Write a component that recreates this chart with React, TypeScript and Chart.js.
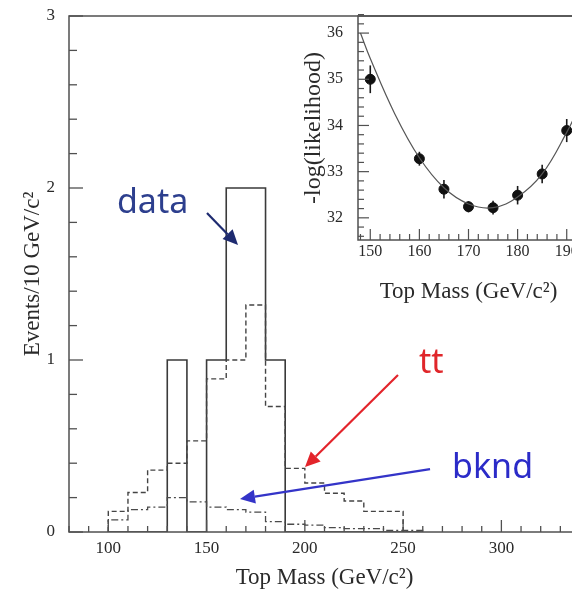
import React, { useEffect, useRef } from "react";
import { Chart, registerables } from "chart.js";

Chart.register(...registerables);

// ---------- data ----------
const BIN_EDGES = [100, 110, 120, 130, 140, 150, 160, 170, 180, 190, 200, 210, 220, 230, 240, 250, 260];
const DATA_COUNTS = [0, 0, 0, 1, 0, 1, 2, 2, 1, 0, 0, 0, 0, 0, 0, 0];
const TOTAL_EXPECTED = [0.12, 0.23, 0.36, 0.4, 0.53, 0.89, 1.0, 1.32, 0.73, 0.37, 0.285, 0.225, 0.18, 0.12, 0.12, 0];
const BACKGROUND = [0.07, 0.13, 0.145, 0.2, 0.175, 0.145, 0.13, 0.115, 0.06, 0.045, 0.04, 0.025, 0.02, 0.02, 0.01, 0.01];

const MAIN_X_TICKS = [100, 150, 200, 250, 300];
const MAIN_Y_TICKS = [0, 1, 2, 3];

const LL_MASS = [150, 160, 165, 170, 175, 180, 185, 190];
const LL_VALUE = [35.0, 33.28, 32.62, 32.24, 32.22, 32.49, 32.95, 33.89];
const LL_ERR = [0.3, 0.15, 0.2, 0.12, 0.15, 0.2, 0.2, 0.25];
const FIT_MASS = [148, 150, 155, 160, 165, 170, 175, 180, 185, 190, 192.5];
const FIT_VALUE = [36.0, 35.45, 34.25, 33.3, 32.65, 32.3, 32.22, 32.45, 32.95, 33.85, 34.4];

const INSET_X_TICKS = [150, 160, 170, 180, 190];
const INSET_Y_TICKS = [32, 33, 34, 35, 36];

// annotation labels, positioned in data units of the main plot
const NOTES = [
  { text: "data", color: "#2d3f8e", at: [104.4, 1.855], from: [150.2, 1.855], to: [166.0, 1.669], arrowColor: "#1e2b70" },
  { text: "tt", color: "#e0262a", at: [258.1, 0.924], from: [247.4, 0.913], to: [200.1, 0.378], arrowColor: "#e3242b" },
  { text: "bknd", color: "#2b2bc8", at: [274.9, 0.314], from: [263.7, 0.366], to: [167.0, 0.192], arrowColor: "#3434c8" },
];

// ---------- styles ----------
const SERIF = "'Liberation Serif', 'Times New Roman', serif";
const SANS = "'Noto Sans', 'Open Sans', sans-serif";
const AXIS = "#505050";
const TEXT = "#2a2a2a";

function histPoints(values: number[]) {
  const pts = [{ x: BIN_EDGES[0], y: 0 }];
  values.forEach((v, i) => pts.push({ x: BIN_EDGES[i], y: v }));
  pts.push({ x: BIN_EDGES[values.length], y: 0 });
  return pts;
}

function seg(ctx: CanvasRenderingContext2D, x1: number, y1: number, x2: number, y2: number) {
  ctx.beginPath();
  ctx.moveTo(x1, y1);
  ctx.lineTo(x2, y2);
  ctx.stroke();
}

function arrow(ctx: CanvasRenderingContext2D, x1: number, y1: number, x2: number, y2: number, color: string) {
  const head = 15;
  const hw = 7;
  const ang = Math.atan2(y2 - y1, x2 - x1);
  const bx = x2 - head * Math.cos(ang);
  const by = y2 - head * Math.sin(ang);
  ctx.strokeStyle = color;
  ctx.fillStyle = color;
  ctx.lineWidth = 2.2;
  seg(ctx, x1, y1, bx, by);
  ctx.beginPath();
  ctx.moveTo(x2, y2);
  ctx.lineTo(bx + hw * Math.sin(ang), by - hw * Math.cos(ang));
  ctx.lineTo(bx - hw * Math.sin(ang), by + hw * Math.cos(ang));
  ctx.closePath();
  ctx.fill();
}

const mainDecor = {
  id: "mainDecor",
  afterDatasetsDraw(chart: any) {
    const { ctx, chartArea: a, scales } = chart;
    const x = scales.x;
    const y = scales.y;
    ctx.save();
    ctx.strokeStyle = AXIS;
    ctx.lineWidth = 1.5;
    ctx.strokeRect(a.left, a.top, a.right - a.left, a.bottom - a.top);
    ctx.lineWidth = 1.3;
    for (let v = x.min; v <= x.max + 1e-6; v += 10) {
      const px = x.getPixelForValue(v);
      const len = v % 50 === 0 ? 12 : 6;
      seg(ctx, px, a.bottom, px, a.bottom - len);
    }
    for (let k = 0; k <= 15; k++) {
      const py = y.getPixelForValue(k * 0.2);
      const len = k % 5 === 0 ? 14 : 8;
      seg(ctx, a.left, py, a.left + len, py);
    }
    ctx.font = `34px ${SANS}`;
    ctx.textBaseline = "alphabetic";
    ctx.textAlign = "left";
    NOTES.forEach((n) => {
      ctx.fillStyle = n.color;
      ctx.fillText(n.text, x.getPixelForValue(n.at[0]), y.getPixelForValue(n.at[1]));
      arrow(
        ctx,
        x.getPixelForValue(n.from[0]),
        y.getPixelForValue(n.from[1]),
        x.getPixelForValue(n.to[0]),
        y.getPixelForValue(n.to[1]),
        n.arrowColor
      );
    });
    ctx.restore();
  },
};

const insetDecor = {
  id: "insetDecor",
  beforeDatasetsDraw(chart: any) {
    const { ctx, scales } = chart;
    const x = scales.x;
    const y = scales.y;
    ctx.save();
    ctx.strokeStyle = "#1a1a1a";
    ctx.lineWidth = 1.6;
    LL_MASS.forEach((m, i) => {
      const px = x.getPixelForValue(m);
      seg(ctx, px, y.getPixelForValue(LL_VALUE[i] - LL_ERR[i]), px, y.getPixelForValue(LL_VALUE[i] + LL_ERR[i]));
    });
    ctx.restore();
  },
  afterDatasetsDraw(chart: any) {
    const { ctx, chartArea: a, scales } = chart;
    const x = scales.x;
    const y = scales.y;
    ctx.save();
    ctx.strokeStyle = AXIS;
    ctx.lineWidth = 1.5;
    ctx.strokeRect(a.left, a.top, a.right - a.left, a.bottom - a.top);
    ctx.lineWidth = 1.2;
    for (let v = 148; v <= x.max + 1e-6; v += 2) {
      const px = x.getPixelForValue(v);
      const len = v % 10 === 0 ? 11 : 6;
      seg(ctx, px, a.bottom, px, a.bottom - len);
    }
    for (let k = 0; k <= 24; k++) {
      const val = 31.6 + k * 0.2;
      const py = y.getPixelForValue(val);
      const len = Math.abs(val - Math.round(val)) < 1e-6 ? 11 : 6;
      seg(ctx, a.left, py, a.left + len, py);
    }
    ctx.restore();
  },
};

const fitY = (w: number) => (s: any) => {
  s.width = w;
  s.paddingTop = 0;
  s.paddingBottom = 0;
};
const fitX = (h: number) => (s: any) => {
  s.height = h;
  s.paddingLeft = 0;
  s.paddingRight = 0;
};

export default function App() {
  const mainRef = useRef<HTMLCanvasElement>(null);
  const insetRef = useRef<HTMLCanvasElement>(null);

  useEffect(() => {
    const main = new Chart(mainRef.current as HTMLCanvasElement, {
      type: "line",
      data: {
        datasets: [
          {
            label: "bknd",
            data: histPoints(BACKGROUND),
            stepped: "before",
            borderColor: "#4a4a4a",
            borderWidth: 1.3,
            borderDash: [7, 3, 2, 3],
            pointRadius: 0,
            fill: false,
          },
          {
            label: "tt + bknd",
            data: histPoints(TOTAL_EXPECTED),
            stepped: "before",
            borderColor: "#444",
            borderWidth: 1.4,
            borderDash: [5, 3],
            pointRadius: 0,
            fill: false,
          },
          {
            label: "data",
            data: histPoints(DATA_COUNTS),
            stepped: "before",
            borderColor: "#3a3a3a",
            borderWidth: 1.6,
            pointRadius: 0,
            fill: false,
          },
        ],
      },
      options: {
        responsive: false,
        animation: false,
        devicePixelRatio: 1,
        events: [],
        layout: { padding: { top: 16, right: 20, left: 0, bottom: 0 } },
        plugins: { legend: { display: false }, tooltip: { enabled: false } },
        scales: {
          x: {
            type: "linear",
            min: 80,
            max: 340,
            afterBuildTicks: (s: any) => {
              s.ticks = MAIN_X_TICKS.map((v) => ({ value: v }));
            },
            afterFit: fitX(60),
            grid: { display: false, drawTicks: false },
            border: { display: false },
            ticks: { padding: 6, autoSkip: false, maxRotation: 0, color: TEXT, font: { family: SERIF, size: 17 } },
            title: {
              display: true,
              text: "Top Mass (GeV/c²)",
              color: TEXT,
              font: { family: SERIF, size: 23 },
              padding: { top: 0, bottom: 0 },
            },
          },
          y: {
            type: "linear",
            min: 0,
            max: 3,
            afterBuildTicks: (s: any) => {
              s.ticks = MAIN_Y_TICKS.map((v) => ({ value: v }));
            },
            afterFit: fitY(69),
            grid: { display: false, drawTicks: false },
            border: { display: false },
            ticks: { padding: 14, color: TEXT, font: { family: SERIF, size: 17 } },
            title: {
              display: true,
              text: "Events/10 GeV/c²",
              color: TEXT,
              font: { family: SERIF, size: 23 },
              padding: { top: 19, bottom: 0 },
            },
          },
        },
      },
      plugins: [mainDecor],
    } as any);

    const inset = new Chart(insetRef.current as HTMLCanvasElement, {
      type: "line",
      data: {
        datasets: [
          {
            label: "fit",
            data: FIT_MASS.map((m, i) => ({ x: m, y: FIT_VALUE[i] })),
            borderColor: "#555",
            borderWidth: 1.2,
            pointRadius: 0,
            tension: 0.4,
            fill: false,
          },
          {
            label: "-log(likelihood)",
            data: LL_MASS.map((m, i) => ({ x: m, y: LL_VALUE[i] })),
            showLine: false,
            pointRadius: 5,
            pointBackgroundColor: "#111",
            pointBorderColor: "#111",
            borderColor: "#111",
          },
        ],
      },
      options: {
        responsive: false,
        animation: false,
        devicePixelRatio: 1,
        events: [],
        layout: { padding: { top: 16, right: 11, left: 0, bottom: 0 } },
        plugins: { legend: { display: false }, tooltip: { enabled: false } },
        scales: {
          x: {
            type: "linear",
            min: 147.5,
            max: 192.5,
            afterBuildTicks: (s: any) => {
              s.ticks = INSET_X_TICKS.map((v) => ({ value: v }));
            },
            afterFit: fitX(70),
            grid: { display: false, drawTicks: false },
            border: { display: false },
            ticks: { padding: 2, autoSkip: false, maxRotation: 0, color: TEXT, font: { family: SERIF, size: 16 } },
            title: {
              display: true,
              text: "Top Mass (GeV/c²)",
              color: TEXT,
              font: { family: SERIF, size: 23 },
              padding: { top: 0, bottom: 4 },
            },
          },
          y: {
            type: "linear",
            min: 31.52,
            max: 36.37,
            afterBuildTicks: (s: any) => {
              s.ticks = INSET_Y_TICKS.map((v) => ({ value: v }));
            },
            afterFit: fitY(68),
            grid: { display: false, drawTicks: false },
            border: { display: false },
            ticks: { padding: 15, color: TEXT, font: { family: SERIF, size: 16 } },
            title: {
              display: true,
              text: "-log(likelihood)",
              color: TEXT,
              font: { family: SERIF, size: 24 },
              padding: { top: 9, bottom: 0 },
            },
          },
        },
      },
      plugins: [insetDecor],
    } as any);

    return () => {
      main.destroy();
      inset.destroy();
    };
  }, []);

  return (
    <div
      style={{
        position: "fixed",
        left: 0,
        top: 0,
        width: 572,
        height: 592,
        overflow: "hidden",
        background: "#fff",
      }}
    >
      <canvas ref={mainRef} width={600} height={592} style={{ position: "absolute", left: 0, top: 0 }} />
      <canvas ref={insetRef} width={300} height={310} style={{ position: "absolute", left: 290, top: 0 }} />
    </div>
  );
}
